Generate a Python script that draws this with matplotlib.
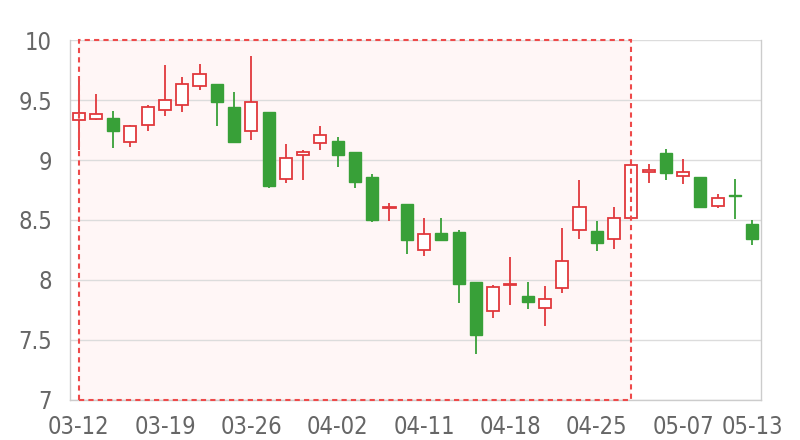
import matplotlib
matplotlib.use("Agg")
import matplotlib.pyplot as plt
from matplotlib.patches import Rectangle

plt.rcParams['font.family'] = ['DejaVu Sans']
plt.rcParams['font.stretch'] = 'condensed'

dates = ["03-12", "03-13", "03-14", "03-15", "03-18", "03-19", "03-20", "03-21",
         "03-22", "03-25", "03-26", "03-27", "03-28", "03-29", "04-01", "04-02",
         "04-03", "04-04", "04-08", "04-09", "04-11", "04-12", "04-15", "04-16",
         "04-17", "04-18", "04-19", "04-22", "04-23", "04-24", "04-25", "04-26",
         "04-29", "04-30", "05-06", "05-07", "05-08", "05-09", "05-10", "05-13"]
opens = [9.33, 9.34, 9.35, 9.15, 9.29, 9.42, 9.46, 9.62, 9.63, 9.44,
         9.24, 9.40, 8.84, 9.04, 9.14, 9.16, 9.07, 8.86, 8.60, 8.63,
         8.25, 8.39, 8.40, 7.98, 7.74, 7.96, 7.87, 7.77, 7.93, 8.42,
         8.41, 8.34, 8.52, 8.90, 9.06, 8.87, 8.86, 8.62, 8.71, 8.47]
closes = [9.39, 9.38, 9.24, 9.28, 9.44, 9.50, 9.63, 9.72, 9.48, 9.15,
          9.48, 8.78, 9.02, 9.07, 9.21, 9.04, 8.82, 8.50, 8.61, 8.33,
          8.38, 8.33, 7.97, 7.54, 7.94, 7.97, 7.82, 7.84, 8.16, 8.61,
          8.31, 8.52, 8.96, 8.92, 8.89, 8.90, 8.61, 8.68, 8.70, 8.34]
lows = [9.08, 9.33, 9.10, 9.11, 9.24, 9.37, 9.40, 9.58, 9.28, 9.15,
        9.17, 8.77, 8.81, 8.83, 9.08, 8.94, 8.77, 8.48, 8.49, 8.22,
        8.20, 8.33, 7.81, 7.38, 7.68, 7.79, 7.76, 7.62, 7.89, 8.34,
        8.24, 8.26, 8.50, 8.81, 8.83, 8.80, 8.60, 8.60, 8.51, 8.29]
highs = [9.69, 9.55, 9.41, 9.29, 9.46, 9.79, 9.69, 9.80, 9.63, 9.57,
         9.87, 9.40, 9.13, 9.08, 9.28, 9.19, 9.07, 8.88, 8.64, 8.63,
         8.52, 8.52, 8.42, 7.98, 7.96, 8.19, 7.98, 7.95, 8.43, 8.83,
         8.49, 8.61, 8.97, 8.97, 9.09, 9.01, 8.86, 8.72, 8.84, 8.50]
mark_start, mark_end = "03-12", "04-29"
yticks = [7, 7.5, 8, 8.5, 9, 9.5, 10]
xtick_idx = [0, 5, 10, 15, 20, 25, 30, 35, 39]

up_color = "#e0383c"
down_color = "#38a038"
grid_color = "#dcdcdc"
text_color = "#666666"

fig, ax = plt.subplots(figsize=(8, 4.4), dpi=100)
fig.subplots_adjust(left=0.0875, right=0.951, top=0.909, bottom=0.091)

# mark area
x0 = dates.index(mark_start)
x1 = dates.index(mark_end)
ax.add_patch(Rectangle((x0, 7), x1 - x0, 3, facecolor="#fff6f6",
                       edgecolor="none", zorder=0))
ax.add_patch(Rectangle((x0, 7), x1 - x0, 3, facecolor="none",
                       edgecolor="#ee4a4a", linewidth=1.5,
                       linestyle=(0, (2.5, 2)), zorder=5, clip_on=False))

w = 0.7
for i in range(len(dates)):
    o, c, lo, hi = opens[i], closes[i], lows[i], highs[i]
    up = c >= o
    col = up_color if up else down_color
    btm, top = min(o, c), max(o, c)
    ax.plot([i, i], [hi, top], color=col, lw=1.3, zorder=3, solid_capstyle="butt")
    ax.plot([i, i], [lo, btm], color=col, lw=1.3, zorder=3, solid_capstyle="butt")
    h = max(top - btm, 0.004)
    if up:
        ax.add_patch(Rectangle((i - w / 2, btm), w, h, facecolor="white",
                               edgecolor=col, linewidth=1.3, zorder=4))
    else:
        ax.add_patch(Rectangle((i - w / 2, btm), w, h, facecolor=col,
                               edgecolor=col, linewidth=1.0, zorder=4))

ax.set_xlim(-0.5, len(dates) - 0.5)
ax.set_ylim(7, 10)
ax.set_yticks(yticks)
ax.set_yticklabels([f"{v:g}" for v in yticks])
ax.set_xticks(xtick_idx)
ax.set_xticklabels([dates[i] for i in xtick_idx])
ax.tick_params(length=0, labelsize=17, labelcolor=text_color)
ax.tick_params(axis="y", pad=13)
ax.tick_params(axis="x", pad=11)
ax.grid(axis="y", color=grid_color, lw=1)
ax.set_axisbelow(True)
for s in ["left", "right", "bottom"]:
    ax.spines[s].set_color("#cccccc")
    ax.spines[s].set_linewidth(1)
ax.spines["top"].set_visible(False)

fig.savefig("out.png", dpi=100)
